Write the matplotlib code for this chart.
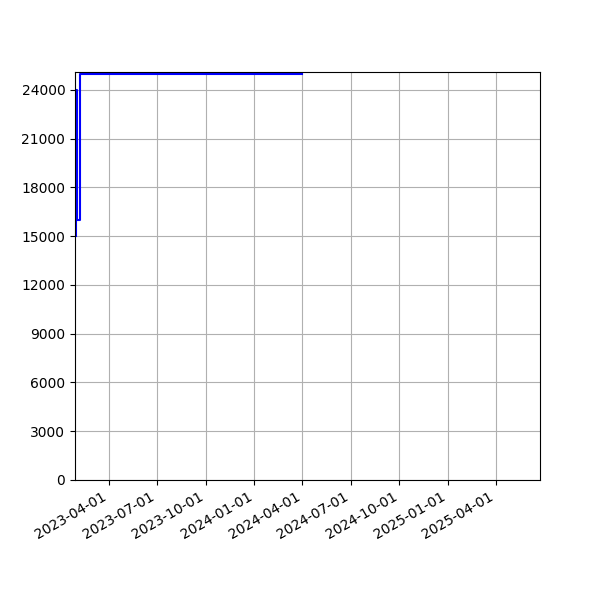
import matplotlib
matplotlib.use("Agg")
import matplotlib.pyplot as plt
import matplotlib.dates as mdates
import numpy as np
import datetime as dt

dates = ["2023-01-28", "2023-01-29", "2023-01-30", "2023-02-05", "2024-04-01"]
values = [15000, 24000, 16000, 25000, 25000]
xtick_labels = ["2023-04-01", "2023-07-01", "2023-10-01", "2024-01-01", "2024-04-01",
                "2024-07-01", "2024-10-01", "2025-01-01", "2025-04-01"]
yticks = [0, 3000, 6000, 9000, 12000, 15000, 18000, 21000, 24000]
xlim = ["2023-01-27", "2025-06-24"]
ylim = [0, 25100]

to_d = lambda s: dt.datetime.strptime(s, "%Y-%m-%d")

fig, ax = plt.subplots(figsize=(6, 6), dpi=100)
ax.plot([to_d(d) for d in dates], values, color="blue", drawstyle="steps-post")
ax.set_xlim(to_d(xlim[0]), to_d(xlim[1]))
ax.set_ylim(*ylim)
ax.set_yticks(yticks)
ax.set_xticks([to_d(d) for d in xtick_labels])
ax.xaxis.set_major_formatter(mdates.DateFormatter("%Y-%m-%d"))
ax.grid(True)
fig.autofmt_xdate()
fig.savefig("out.png", dpi=100)
